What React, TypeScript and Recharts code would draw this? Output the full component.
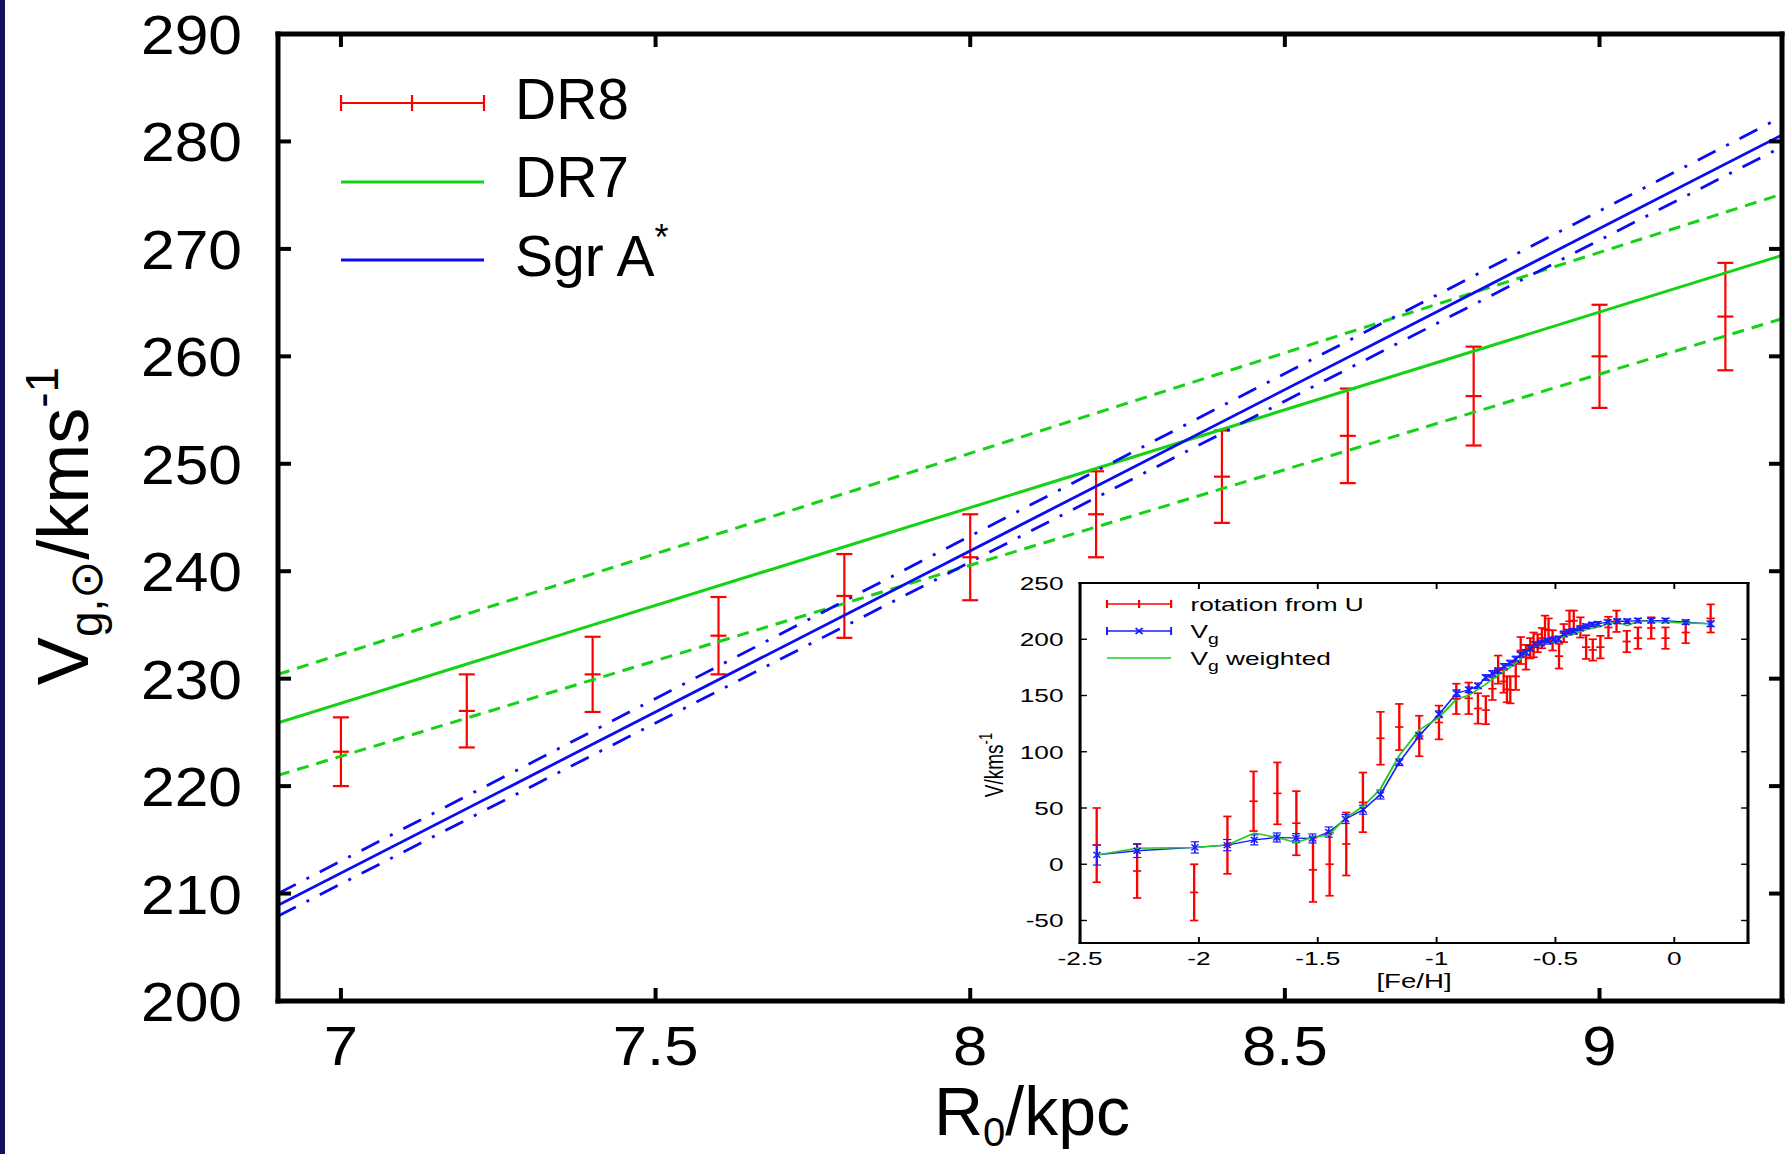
import React from "react";
import {
  ComposedChart,
  Line,
  Scatter,
  XAxis,
  YAxis,
  ErrorBar,
  Label,
} from "recharts";

const FONT = '"Liberation Sans", Arial, Helvetica, sans-serif';

// ---- main panel ----
const R0 = [7.0, 7.2, 7.4, 7.6, 7.8, 8.0, 8.2, 8.4, 8.6, 8.8, 9.0, 9.2];
const DR8_V = [223.2, 227.0, 230.4, 234.0, 237.7, 241.3, 245.3, 248.8, 252.6, 256.3, 260.0, 263.7];
const DR8_ERR = [3.2, 3.4, 3.5, 3.6, 3.9, 4.0, 4.0, 4.3, 4.4, 4.6, 4.8, 5.0];

// fit lines, read at the two edges of the plot
const FIT_R = [6.9, 9.29];
const DR7 = [225.9, 269.4];
const DR7_HI = [230.4, 275.1];
const DR7_LO = [221.0, 263.5];
const SGR = [208.9, 280.6];
const SGR_HI = [210.0, 282.3];
const SGR_LO = [207.9, 279.5];

const X_TICKS = [7, 7.5, 8, 8.5, 9];
const Y_TICKS = [200, 210, 220, 230, 240, 250, 260, 270, 280, 290];

// ---- inset ----
const ROT_FEH = [
  -2.43, -2.26, -2.02, -1.88, -1.77, -1.67, -1.59, -1.52, -1.45, -1.38, -1.31, -1.236,
  -1.157, -1.073, -0.99, -0.917, -0.865, -0.826, -0.793, -0.765, -0.741, -0.718, -0.704,
  -0.69, -0.667, -0.646, -0.624, -0.606, -0.592, -0.575, -0.557, -0.544, -0.529, -0.512,
  -0.485, -0.465, -0.441, -0.423, -0.395, -0.371, -0.343, -0.311, -0.277, -0.243, -0.2,
  -0.153, -0.097, -0.037, 0.048, 0.153,
];
const ROT_V = [
  17, -6, -25, 17, 56, 63, 36.5, -5, 0, 18, 55, 112, 122, 114, 126, 147, 147.5, 138.5, 137,
  156, 173, 162.5, 155.5, 155, 167, 190, 184, 192, 195, 196.5, 201, 209, 208, 199, 185,
  205.5, 216, 216.5, 210.5, 193, 190.5, 193, 210.5, 216, 198, 201, 210, 201, 206, 218.5,
];
const ROT_ERR = [
  33, 24, 25, 25.5, 26.5, 27.5, 28.5, 28.5, 28, 28, 26.5, 23.5, 20.5, 18, 15, 13.5, 14, 13.5,
  12.5, 10, 12.5, 10, 11.5, 12, 12, 12, 11, 9, 11, 8, 9, 12, 10.5, 9, 11, 8, 9.5, 9, 9,
  10.5, 9.5, 10, 9.5, 9.5, 9.5, 9.5, 9.5, 9.5, 9.5, 12.5,
];

const VG_FEH = [
  -2.429, -2.26, -2.017, -1.881, -1.767, -1.672, -1.591, -1.522, -1.454, -1.383, -1.309,
  -1.236, -1.157, -1.073, -0.99, -0.916, -0.864, -0.826, -0.793, -0.765, -0.741, -0.716,
  -0.691, -0.667, -0.646, -0.624, -0.606, -0.585, -0.561, -0.533, -0.508, -0.487, -0.465,
  -0.446, -0.423, -0.395, -0.371, -0.346, -0.322, -0.28, -0.24, -0.198, -0.153, -0.097,
  -0.037, 0.048, 0.153,
];
const VG_V = [
  8.3, 12, 15, 17, 21.7, 23.8, 23.2, 22.9, 28.6, 40.2, 48.5, 62, 90.7, 114.3, 133.3, 152,
  155, 158.6, 166, 169.6, 172, 175.9, 178.8, 182.4, 186.3, 188.4, 192, 195.2, 196.7, 198.2,
  199.4, 200.3, 204.7, 206.3, 207.1, 209.8, 211.6, 213, 213.7, 215.2, 216, 216, 216.6, 216.6,
  216.6, 215.2, 213.7,
];
const VG_ERR = [
  9, 6, 5, 5, 4.5, 4, 4, 4, 4.5, 4, 4, 4, 3, 3, 3, 3, 2.5, 2.5, 2.5, 2.5, 2.5, 2.5, 2.5, 2.5,
  2.5, 2.5, 2.5, 2.5, 2.5, 2.5, 2.5, 2.5, 2.5, 2.5, 2.5, 2, 2, 2, 2, 2, 2, 2, 2, 2, 2, 2, 2.5,
];
const VGW_V = [
  8.3, 14.3, 14.9, 17.2, 27.7, 23.8, 19.3, 24, 26, 41, 51.4, 67, 96.7, 119.3, 130.4, 146.7,
  150.3, 155.6, 160, 164.6, 168, 172, 175, 178.8, 182.4, 188.4, 192.9, 194.3, 195.5, 196.7,
  197.9, 200.3, 202.3, 203.2, 204.7, 206.8, 208.6, 209.8, 210.7, 213.7, 215.2, 212.1, 216,
  216, 215.2, 214.5, 213.7,
];

const INSET_X_TICKS = [-2.5, -2, -1.5, -1, -0.5, 0];
const INSET_Y_TICKS = [-50, 0, 50, 100, 150, 200, 250];

const dr8Data = R0.map((x, i) => ({ x, v: DR8_V[i], e: DR8_ERR[i] }));
const fit = (ys: number[]) => FIT_R.map((x, i) => ({ x, v: ys[i] }));
const rotData = ROT_FEH.map((x, i) => ({ x, v: ROT_V[i], e: ROT_ERR[i] }));
const vgData = VG_FEH.map((x, i) => ({ x, v: VG_V[i], e: VG_ERR[i] }));
const vgwData = VG_FEH.map((x, i) => ({ x, v: VGW_V[i] }));

const RED = "#ff0000";
const GREEN = "#14d214";
const BLUE = "#0a0af5";

const frame = { stroke: "#000", strokeWidth: 5, strokeLinecap: "square" as const };
const tickStroke = { stroke: "#000", strokeWidth: 4 };
const noLabel = () => <g />;

function MainXTick({ x, y, payload }: any) {
  return (
    <text transform={`translate(${x},${y + 40}) scale(1.1,1)`} textAnchor="middle"
      fontSize={56} fontFamily={FONT} fill="#000">
      {payload.value}
    </text>
  );
}

function MainYTick({ x, y, payload }: any) {
  return (
    <text transform={`translate(${x},${y + 20}) scale(1.1,1)`} textAnchor="end"
      fontSize={55} fontFamily={FONT} fill="#000">
      {payload.value}
    </text>
  );
}

function MainXTitle({ viewBox }: any) {
  const cx = viewBox.x + viewBox.width / 2 + 2;
  return (
    <text x={cx} y={1135} textAnchor="middle" fontSize={68} fontFamily={FONT} fill="#000">
      R<tspan fontSize={40} dy={11}>0</tspan>
      <tspan dy={-11}>/kpc</tspan>
    </text>
  );
}

function MainYTitle() {
  const bx = 88;
  const cy = 526;
  return (
    <text x={bx} y={cy} transform={`rotate(-90, ${bx}, ${cy})`} textAnchor="middle"
      fontSize={72} fontFamily={FONT} fill="#000">
      V<tspan fontSize={46} dy={14}>g,⊙</tspan>
      <tspan dy={-14}>/kms</tspan>
      <tspan fontSize={46} dy={-30}>-1</tspan>
    </text>
  );
}

function Dr8Mark({ cx, cy }: any) {
  return <line x1={cx - 8} x2={cx + 8} y1={cy} y2={cy} stroke={RED} strokeWidth={2.2} />;
}

function MainLegend() {
  const x0 = 341;
  const x1 = 484;
  const tx = 515;
  return (
    <svg width={1792} height={1154} style={{ position: "absolute", left: 0, top: 0, pointerEvents: "none" }}>
      <g stroke={RED} strokeWidth={2.2}>
        <line x1={x0} x2={x1} y1={103} y2={103} />
        <line x1={x0} x2={x0} y1={95} y2={111} />
        <line x1={x1} x2={x1} y1={95} y2={111} />
        <line x1={412} x2={412} y1={95} y2={111} />
      </g>
      <line x1={x0} x2={x1} y1={182} y2={182} stroke={GREEN} strokeWidth={3} />
      <line x1={x0} x2={x1} y1={260} y2={260} stroke={BLUE} strokeWidth={3} />
      <g fontFamily={FONT} fontSize={57} fill="#000">
        <text x={tx} y={119}>DR8</text>
        <text x={tx} y={197}>DR7</text>
        <text x={tx} y={276}>
          Sgr A<tspan fontSize={36} dy={-26}>*</tspan>
        </text>
      </g>
    </svg>
  );
}

function MainChart() {
  return (
    <ComposedChart width={1792} height={1154} margin={{ top: 33, right: 9, bottom: 0, left: 0 }}>
      <XAxis type="number" dataKey="x" domain={[6.9, 9.29]} ticks={X_TICKS} interval={0}
        allowDataOverflow height={153} tickSize={-13} tickMargin={37}
        tick={MainXTick} axisLine={frame} tickLine={tickStroke}>
        <Label content={MainXTitle} />
      </XAxis>
      <XAxis xAxisId="top" orientation="top" type="number" dataKey="x" domain={[6.9, 9.29]}
        ticks={X_TICKS} interval={0} allowDataOverflow height={1} tickSize={-13}
        tick={noLabel} axisLine={frame} tickLine={tickStroke} />
      <YAxis type="number" domain={[200, 290]} ticks={Y_TICKS} interval={0} allowDataOverflow
        width={278} tickSize={-13} tickMargin={49} tick={MainYTick}
        axisLine={frame} tickLine={tickStroke}>
        <Label content={MainYTitle} />
      </YAxis>
      <YAxis yAxisId="right" orientation="right" type="number" domain={[200, 290]}
        ticks={Y_TICKS} interval={0} allowDataOverflow width={1} tickSize={-13}
        tick={noLabel} axisLine={frame} tickLine={tickStroke} />

      {/* invisible series so the mirrored top/right axes get drawn */}
      <Line xAxisId="top" yAxisId="right" data={fit(DR7)} dataKey="v" stroke="none"
        dot={false} isAnimationActive={false} />

      <Scatter data={dr8Data} dataKey="v" shape={Dr8Mark} isAnimationActive={false}>
        <ErrorBar dataKey="e" direction="y" width={8} stroke={RED} strokeWidth={2.2} />
      </Scatter>

      <Line data={fit(DR7)} dataKey="v" stroke={GREEN} strokeWidth={3} dot={false} isAnimationActive={false} />
      <Line data={fit(DR7_HI)} dataKey="v" stroke={GREEN} strokeWidth={3} strokeDasharray="12 8" dot={false} isAnimationActive={false} />
      <Line data={fit(DR7_LO)} dataKey="v" stroke={GREEN} strokeWidth={3} strokeDasharray="12 8" dot={false} isAnimationActive={false} />
      <Line data={fit(SGR)} dataKey="v" stroke={BLUE} strokeWidth={2.8} dot={false} isAnimationActive={false} />
      <Line data={fit(SGR_HI)} dataKey="v" stroke={BLUE} strokeWidth={2.8} strokeDasharray="20 12 3 12" dot={false} isAnimationActive={false} />
      <Line data={fit(SGR_LO)} dataKey="v" stroke={BLUE} strokeWidth={2.8} strokeDasharray="20 12 3 12" dot={false} isAnimationActive={false} />
    </ComposedChart>
  );
}

// ---- inset (drawn narrow, then stretched sideways like the original) ----
const IFS = 19;
const insetFrame = { stroke: "#000", strokeWidth: 2.2, strokeLinecap: "square" as const };
const insetTick = { stroke: "#000", strokeWidth: 1.4 };

function InsetXTick({ x, y, payload }: any) {
  return (
    <text x={x} y={y + 13.6} textAnchor="middle" fontSize={IFS} fontFamily={FONT} fill="#000">
      {payload.value}
    </text>
  );
}

function InsetYTick({ x, y, payload }: any) {
  return (
    <text x={x} y={y + 6.8} textAnchor="end" fontSize={IFS} fontFamily={FONT} fill="#000">
      {payload.value}
    </text>
  );
}

function InsetXTitle({ viewBox }: any) {
  return (
    <text x={viewBox.x + viewBox.width / 2} y={418} textAnchor="middle" fontSize={20}
      fontFamily={FONT} fill="#000">
      [Fe/H]
    </text>
  );
}

function InsetYTitle() {
  const bx = 31;
  const cy = 195;
  return (
    <text x={bx} y={cy} transform={`rotate(-90, ${bx}, ${cy})`} textAnchor="middle"
      fontSize={IFS} fontFamily={FONT} fill="#000">
      V/kms<tspan fontSize={13} dy={-8}>-1</tspan>
    </text>
  );
}

function RotMark({ cx, cy }: any) {
  return <line x1={cx - 3} x2={cx + 3} y1={cy} y2={cy} stroke={RED} strokeWidth={1.7} />;
}

function VgMark(p: any) {
  const { cx, cy, index } = p;
  if (cx == null || cy == null) return <g key={index} />;
  return (
    <path key={index} d={`M${cx - 2.5},${cy - 3}L${cx + 2.5},${cy + 3}M${cx - 2.5},${cy + 3}L${cx + 2.5},${cy - 3}`}
      stroke="#1a1aff" strokeWidth={1.3} fill="none" />
  );
}

function InsetLegend() {
  const a = 106.5;
  const b = 153;
  const tx = 167;
  return (
    <svg width={580} height={430} style={{ position: "absolute", left: 0, top: 0, pointerEvents: "none" }}>
      <g stroke={RED} strokeWidth={1.6}>
        <line x1={a} x2={b} y1={34} y2={34} />
        <line x1={a} x2={a} y1={30} y2={38} />
        <line x1={b} x2={b} y1={30} y2={38} />
        <line x1={(a + b) / 2} x2={(a + b) / 2} y1={30} y2={38} />
      </g>
      <g stroke="#1a1aff" strokeWidth={1.4}>
        <line x1={a} x2={b} y1={61} y2={61} />
        <line x1={a} x2={a} y1={57} y2={65} />
        <line x1={b} x2={b} y1={57} y2={65} />
        <path d={`M${(a + b) / 2 - 2.5},58L${(a + b) / 2 + 2.5},64M${(a + b) / 2 - 2.5},64L${(a + b) / 2 + 2.5},58`} />
      </g>
      <line x1={a} x2={b} y1={88} y2={88} stroke="#22cc22" strokeWidth={1.5} />
      <g fontFamily={FONT} fontSize={IFS} fill="#000">
        <text x={tx} y={41}>rotation from U</text>
        <text x={tx} y={68}>
          V<tspan fontSize={14} dy={6}>g</tspan>
        </text>
        <text x={tx} y={95}>
          V<tspan fontSize={14} dy={6}>g</tspan>
          <tspan dy={-6}> weighted</tspan>
        </text>
      </g>
    </svg>
  );
}

function InsetChart() {
  return (
    <div style={{ position: "absolute", left: 960, top: 570, width: 580, height: 430,
      transform: "scaleX(1.38)", transformOrigin: "0 0" }}>
      <ComposedChart width={580} height={430} margin={{ top: 12, right: 8, bottom: 0, left: 0 }}>
        <XAxis type="number" dataKey="x" domain={[-2.5, 0.31]} ticks={INSET_X_TICKS} interval={0}
          allowDataOverflow height={57} tickSize={-6} tickMargin={14} tick={InsetXTick}
          axisLine={insetFrame} tickLine={insetTick}>
          <Label content={InsetXTitle} />
        </XAxis>
        <XAxis xAxisId="top" orientation="top" type="number" dataKey="x" domain={[-2.5, 0.31]}
          ticks={INSET_X_TICKS} interval={0} allowDataOverflow height={1} tickSize={-6}
          tick={noLabel} axisLine={insetFrame} tickLine={insetTick} />
        <YAxis type="number" domain={[-70, 250]} ticks={INSET_Y_TICKS} interval={0}
          allowDataOverflow width={87} tickSize={-5} tickMargin={17} tick={InsetYTick}
          axisLine={insetFrame} tickLine={insetTick}>
          <Label content={InsetYTitle} />
        </YAxis>
        <YAxis yAxisId="right" orientation="right" type="number" domain={[-70, 250]}
          ticks={INSET_Y_TICKS} interval={0} allowDataOverflow width={1} tickSize={-5}
          tick={noLabel} axisLine={insetFrame} tickLine={insetTick} />

        {/* invisible series so the mirrored top/right axes get drawn */}
        <Line xAxisId="top" yAxisId="right" data={vgwData} dataKey="v" stroke="none"
          dot={false} isAnimationActive={false} />

        <Scatter data={rotData} dataKey="v" shape={RotMark} isAnimationActive={false}>
          <ErrorBar dataKey="e" direction="y" width={3} stroke={RED} strokeWidth={1.7} />
        </Scatter>
        <Line data={vgData} dataKey="v" stroke="#1a1aff" strokeWidth={1.3} dot={VgMark}
          isAnimationActive={false}>
          <ErrorBar dataKey="e" direction="y" width={3} stroke="#1a1aff" strokeWidth={1.2} />
        </Line>
        <Line data={vgwData} dataKey="v" stroke="#22cc22" strokeWidth={1.5} dot={false}
          isAnimationActive={false} />
      </ComposedChart>
      <InsetLegend />
    </div>
  );
}

export default function App() {
  return (
    <div style={{ position: "absolute", left: 0, top: 0, width: 1792, height: 1154,
      background: "#fff", overflow: "hidden" }}>
      <MainChart />
      <MainLegend />
      <InsetChart />
      <div style={{ position: "absolute", left: 0, top: 0, width: 5, height: 1154, background: "#160f5c" }} />
    </div>
  );
}
